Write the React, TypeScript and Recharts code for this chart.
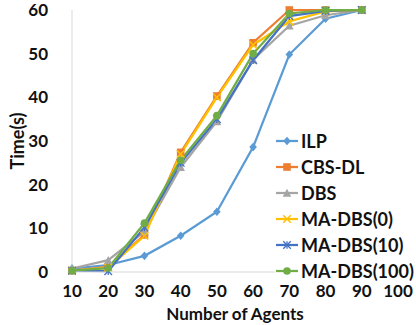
import { LineChart, Line, XAxis, YAxis } from "recharts";

const agents = [10, 20, 30, 40, 50, 60, 70, 80, 90];
const ilp = [0.8, 1.6, 3.7, 8.3, 13.8, 28.6, 49.8, 58.0, 60];
const cbsDl = [0.3, 1.2, 8.5, 27.4, 40.3, 52.5, 60, 60, 60];
const dbs = [0.8, 2.7, 9.3, 24.0, 34.5, 48.6, 56.4, 58.8, 60];
const maDbs0 = [0.3, 1.0, 8.3, 27.0, 40.0, 52.0, 57.4, 59.7, 60];
const maDbs10 = [0.3, 0.2, 10.2, 25.0, 35.0, 48.5, 58.6, 59.8, 60];
const maDbs100 = [0.3, 0.9, 11.2, 25.6, 35.8, 50.0, 59.2, 60, 60];

const xTicks = [10, 20, 30, 40, 50, 60, 70, 80, 90, 100];
const yTicks = [0, 10, 20, 30, 40, 50, 60];

const SERIES = [
  { key: "ilp", label: "ILP", color: "#5B9BD5", marker: "diamond", values: ilp },
  { key: "cbsDl", label: "CBS-DL", color: "#ED7D31", marker: "square", values: cbsDl },
  { key: "dbs", label: "DBS", color: "#A5A5A5", marker: "triangle", values: dbs },
  { key: "ma0", label: "MA-DBS(0)", color: "#FFC000", marker: "x", values: maDbs0 },
  { key: "ma10", label: "MA-DBS(10)", color: "#4472C4", marker: "star", values: maDbs10 },
  { key: "ma100", label: "MA-DBS(100)", color: "#70AD47", marker: "circle", values: maDbs100 },
];

const data = agents.map((a, i) => {
  const row: any = { agents: a };
  SERIES.forEach((s) => (row[s.key] = s.values[i]));
  return row;
});

const FONT = "Lato, 'Open Sans', sans-serif";

function Marker({ type, color, cx, cy }: any) {
  const r = 3.8;
  if (type === "diamond")
    return (
      <polygon
        points={`${cx},${cy - r - 0.5} ${cx + r},${cy} ${cx},${cy + r + 0.5} ${cx - r},${cy}`}
        fill={color}
      />
    );
  if (type === "square")
    return <rect x={cx - r} y={cy - r} width={r * 2} height={r * 2} fill={color} />;
  if (type === "triangle")
    return (
      <polygon
        points={`${cx},${cy - r - 0.5} ${cx + r + 0.5},${cy + r} ${cx - r - 0.5},${cy + r}`}
        fill={color}
      />
    );
  if (type === "x")
    return (
      <g stroke={color} strokeWidth={1.5}>
        <line x1={cx - r} y1={cy - r} x2={cx + r} y2={cy + r} />
        <line x1={cx - r} y1={cy + r} x2={cx + r} y2={cy - r} />
      </g>
    );
  if (type === "star")
    return (
      <g stroke={color} strokeWidth={1.3}>
        <line x1={cx - r} y1={cy - r} x2={cx + r} y2={cy + r} />
        <line x1={cx - r} y1={cy + r} x2={cx + r} y2={cy - r} />
        <line x1={cx} y1={cy - r} x2={cx} y2={cy + r} />
      </g>
    );
  return <circle cx={cx} cy={cy} r={r} fill={color} />;
}

function ChartLegend() {
  return (
    <div
      style={{
        position: "absolute",
        left: 275,
        top: 128,
        width: 141,
        background: "#fff",
        fontFamily: FONT,
        fontWeight: 700,
        fontSize: 18,
        color: "#111",
      }}
    >
      {SERIES.map((s) => (
        <div key={s.key} style={{ display: "flex", alignItems: "center", height: 26 }}>
          <svg width={24} height={12} style={{ marginRight: 2 }}>
            <line x1={1} y1={6} x2={23} y2={6} stroke={s.color} strokeWidth={2.25} />
            <Marker type={s.marker} color={s.color} cx={12} cy={6} />
          </svg>
          <span>{s.label}</span>
        </div>
      ))}
    </div>
  );
}

export default function App() {
  return (
    <div style={{ position: "absolute", left: 0, top: 0, width: 416, height: 325, background: "#fff" }}>
      <LineChart
        width={416}
        height={325}
        data={data}
        margin={{ top: 10, right: 18, left: 0, bottom: 0 }}
      >
        <XAxis
          dataKey="agents"
          type="number"
          domain={[10, 100]}
          ticks={xTicks}
          interval={0}
          tickLine={false}
          axisLine={{ stroke: "#D9D9D9" }}
          tick={{ fill: "#111", fontSize: 17, fontWeight: 700, fontFamily: FONT }}
          tickMargin={7}
          height={53}
          label={{
            value: "Number of Agents",
            position: "insideBottom",
            offset: 5,
            fill: "#111",
            fontSize: 17,
            fontWeight: 700,
            fontFamily: FONT,
          }}
        />
        <YAxis
          type="number"
          domain={[0, 60]}
          ticks={yTicks}
          interval={0}
          tickLine={false}
          axisLine={{ stroke: "#D9D9D9" }}
          tick={{ fill: "#111", fontSize: 17, fontWeight: 700, fontFamily: FONT }}
          tickMargin={18}
          width={72}
          label={{
            value: "Time(s)",
            angle: -90,
            position: "insideLeft",
            offset: 18,
            style: { textAnchor: "middle" },
            fill: "#111",
            fontSize: 18,
            fontWeight: 700,
            fontFamily: FONT,
          }}
        />
        {SERIES.map((s) => (
          <Line
            key={s.key}
            dataKey={s.key}
            stroke={s.color}
            strokeWidth={2.25}
            isAnimationActive={false}
            dot={(p: any) => (
              <Marker key={`${s.key}-${p.index}`} type={s.marker} color={s.color} cx={p.cx} cy={p.cy} />
            )}
            activeDot={false}
          />
        ))}
      </LineChart>
      <ChartLegend />
    </div>
  );
}
